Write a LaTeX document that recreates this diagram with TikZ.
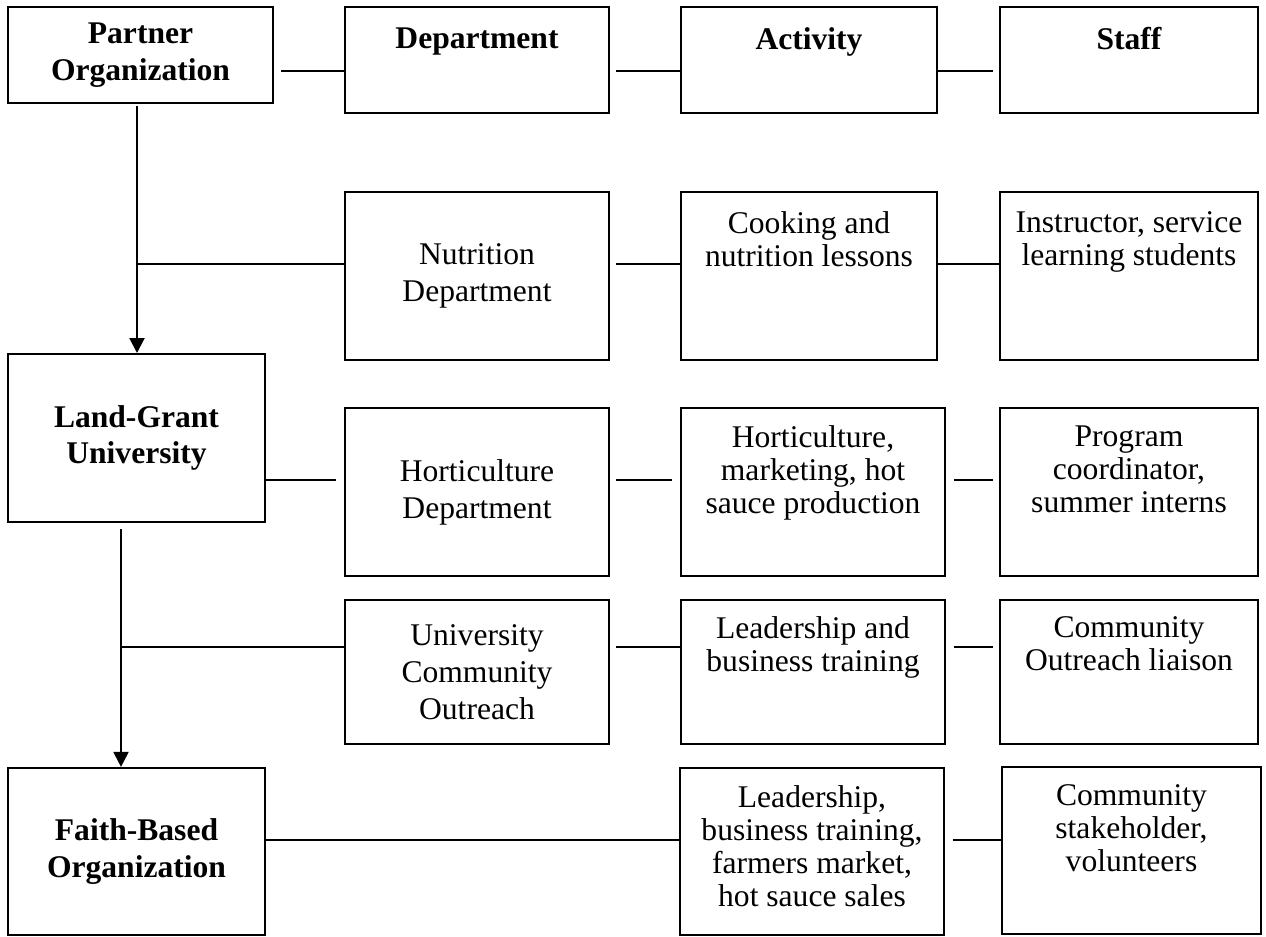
\documentclass[tikz,border=0pt]{standalone}
\usepackage{fontspec}
\setmainfont{Liberation Serif}
\usetikzlibrary{positioning,arrows.meta}

\begin{document}
\begin{tikzpicture}[x=0.38pt, y=-0.38pt,
    box/.style={draw, line width=0.8pt, inner sep=0pt, align=center,
      font=\fontsize{12}{14}\selectfont},
    hbox/.style={box, font=\fontsize{12}{14}\selectfont\bfseries},
    txt/.style={inner sep=0pt, align=center, font=\fontsize{12}{12.5}\selectfont},
    htxt/.style={txt, font=\fontsize{12}{14}\selectfont\bfseries},
    conn/.style={line width=0.8pt},
    arr/.style={conn, -{Triangle[length=5.7pt, width=5.7pt]}}]
  \useasboundingbox (0,0) rectangle (1266,936);

  % row heights of the connectors and the two trunks
  \coordinate (r0) at (0,71);
  \coordinate (r1) at (0,264);
  \coordinate (r2) at (0,480);
  \coordinate (r3) at (0,647);
  \coordinate (r4) at (0,840);
  \coordinate (t1) at (137,0);
  \coordinate (t2) at (121,0);
  \coordinate (j1) at (137,264);
  \coordinate (j2) at (121,647);

  % header row
  \node[hbox, minimum width=100.7pt, minimum height=36.5pt] (po) at (140.5,55) {Partner\\Organization};
  \node[box, minimum width=100.3pt, minimum height=40.3pt] (dep) at (477,60) {};
  \node[htxt, below=8pt of dep.north] (depT) {Department};
  \node[box, minimum width=97.3pt, minimum height=40.3pt] (act) at (809,60) {};
  \node[htxt, below=8pt of act.north] (actT) {Activity};
  \node[box, minimum width=98pt, minimum height=40.3pt] (stf) at (1129,60) {};
  \node[htxt, below=8pt of stf.north] (stfT) {Staff};

  % nutrition
  \node[box, minimum width=100.3pt, minimum height=63.8pt] (nut) at (477,276) {Nutrition\\Department};
  \node[box, minimum width=97.3pt, minimum height=63.8pt] (cook) at (809,276) {};
  \node[txt, below=7.6pt of cook.north] (cookT) {Cooking and\\nutrition lessons};
  \node[box, minimum width=98pt, minimum height=63.8pt] (ins) at (1129,276) {};
  \node[txt, below=7.6pt of ins.north] (insT) {Instructor, service\\learning students};

  % land-grant university
  \node[hbox, minimum width=97.7pt, minimum height=63.8pt] (lgu) at (136.5,438) {Land-Grant\\University};
  \node[box, minimum width=100.3pt, minimum height=63.8pt] (hort) at (477,492) {Horticulture\\Department};
  \node[box, minimum width=100.3pt, minimum height=63.8pt] (hsp) at (813,492) {};
  \node[txt, below=7pt of hsp.north] (hspT) {Horticulture,\\marketing, hot\\sauce production};
  \node[box, minimum width=98pt, minimum height=63.8pt] (pc) at (1129,492) {};
  \node[txt, below=7pt of pc.north] (pcT) {Program\\coordinator,\\summer interns};

  % outreach
  \node[box, minimum width=100.3pt, minimum height=54.7pt] (uco) at (477,672) {University\\Community\\Outreach};
  \node[box, minimum width=100.3pt, minimum height=54.7pt] (lbt) at (813,672) {};
  \node[txt, below=6.6pt of lbt.north] (lbtT) {Leadership and\\business training};
  \node[box, minimum width=98pt, minimum height=54.7pt] (col) at (1129,672) {};
  \node[txt, below=6.6pt of col.north] (colT) {Community\\Outreach liaison};

  % faith-based organization
  \node[hbox, minimum width=97.7pt, minimum height=63.5pt] (fbo) at (136.5,851.5) {Faith-Based\\Organization};
  \node[box, minimum width=100.3pt, minimum height=63.5pt] (lsl) at (812,851.5) {};
  \node[txt, below=7pt of lsl.north] (lslT) {Leadership,\\business training,\\farmers market,\\hot sauce sales};
  \node[box, minimum width=98.4pt, minimum height=63.5pt] (csv) at (1131.5,850.5) {};
  \node[txt, below=7pt of csv.north] (csvT) {Community\\stakeholder,\\volunteers};

  % trunks
  \draw[arr] ([yshift=-0.8pt]po.south -| t1) -- (lgu.north -| t1);
  \draw[arr] ([yshift=-2.3pt]lgu.south -| t2) -- (fbo.north -| t2);

  % connectors
  \draw[conn] ([xshift=2.7pt]po.east |- r0) -- (dep.west |- r0);
  \draw[conn] ([xshift=2.3pt]dep.east |- r0) -- (act.west |- r0);
  \draw[conn] (act.east |- r0) -- ([xshift=-2.3pt]stf.west |- r0);
  \draw[conn] (j1) -- (nut.west |- j1);
  \draw[conn] ([xshift=2.3pt]nut.east |- r1) -- (cook.west |- r1);
  \draw[conn] (cook.east |- r1) -- (ins.west |- r1);
  \draw[conn] (lgu.east |- r2) -- ([xshift=-2.9pt]hort.west |- r2);
  \draw[conn] ([xshift=2.3pt]hort.east |- r2) -- ([xshift=-3pt]hsp.west |- r2);
  \draw[conn] ([xshift=3pt]hsp.east |- r2) -- ([xshift=-2.3pt]pc.west |- r2);
  \draw[conn] (j2) -- (uco.west |- j2);
  \draw[conn] ([xshift=2.3pt]uco.east |- r3) -- (lbt.west |- r3);
  \draw[conn] ([xshift=3pt]lbt.east |- r3) -- ([xshift=-2.3pt]col.west |- r3);
  \draw[conn] (fbo.east |- r4) -- (lsl.west |- r4);
  \draw[conn] ([xshift=3pt]lsl.east |- r4) -- (csv.west |- r4);
\end{tikzpicture}
\end{document}
